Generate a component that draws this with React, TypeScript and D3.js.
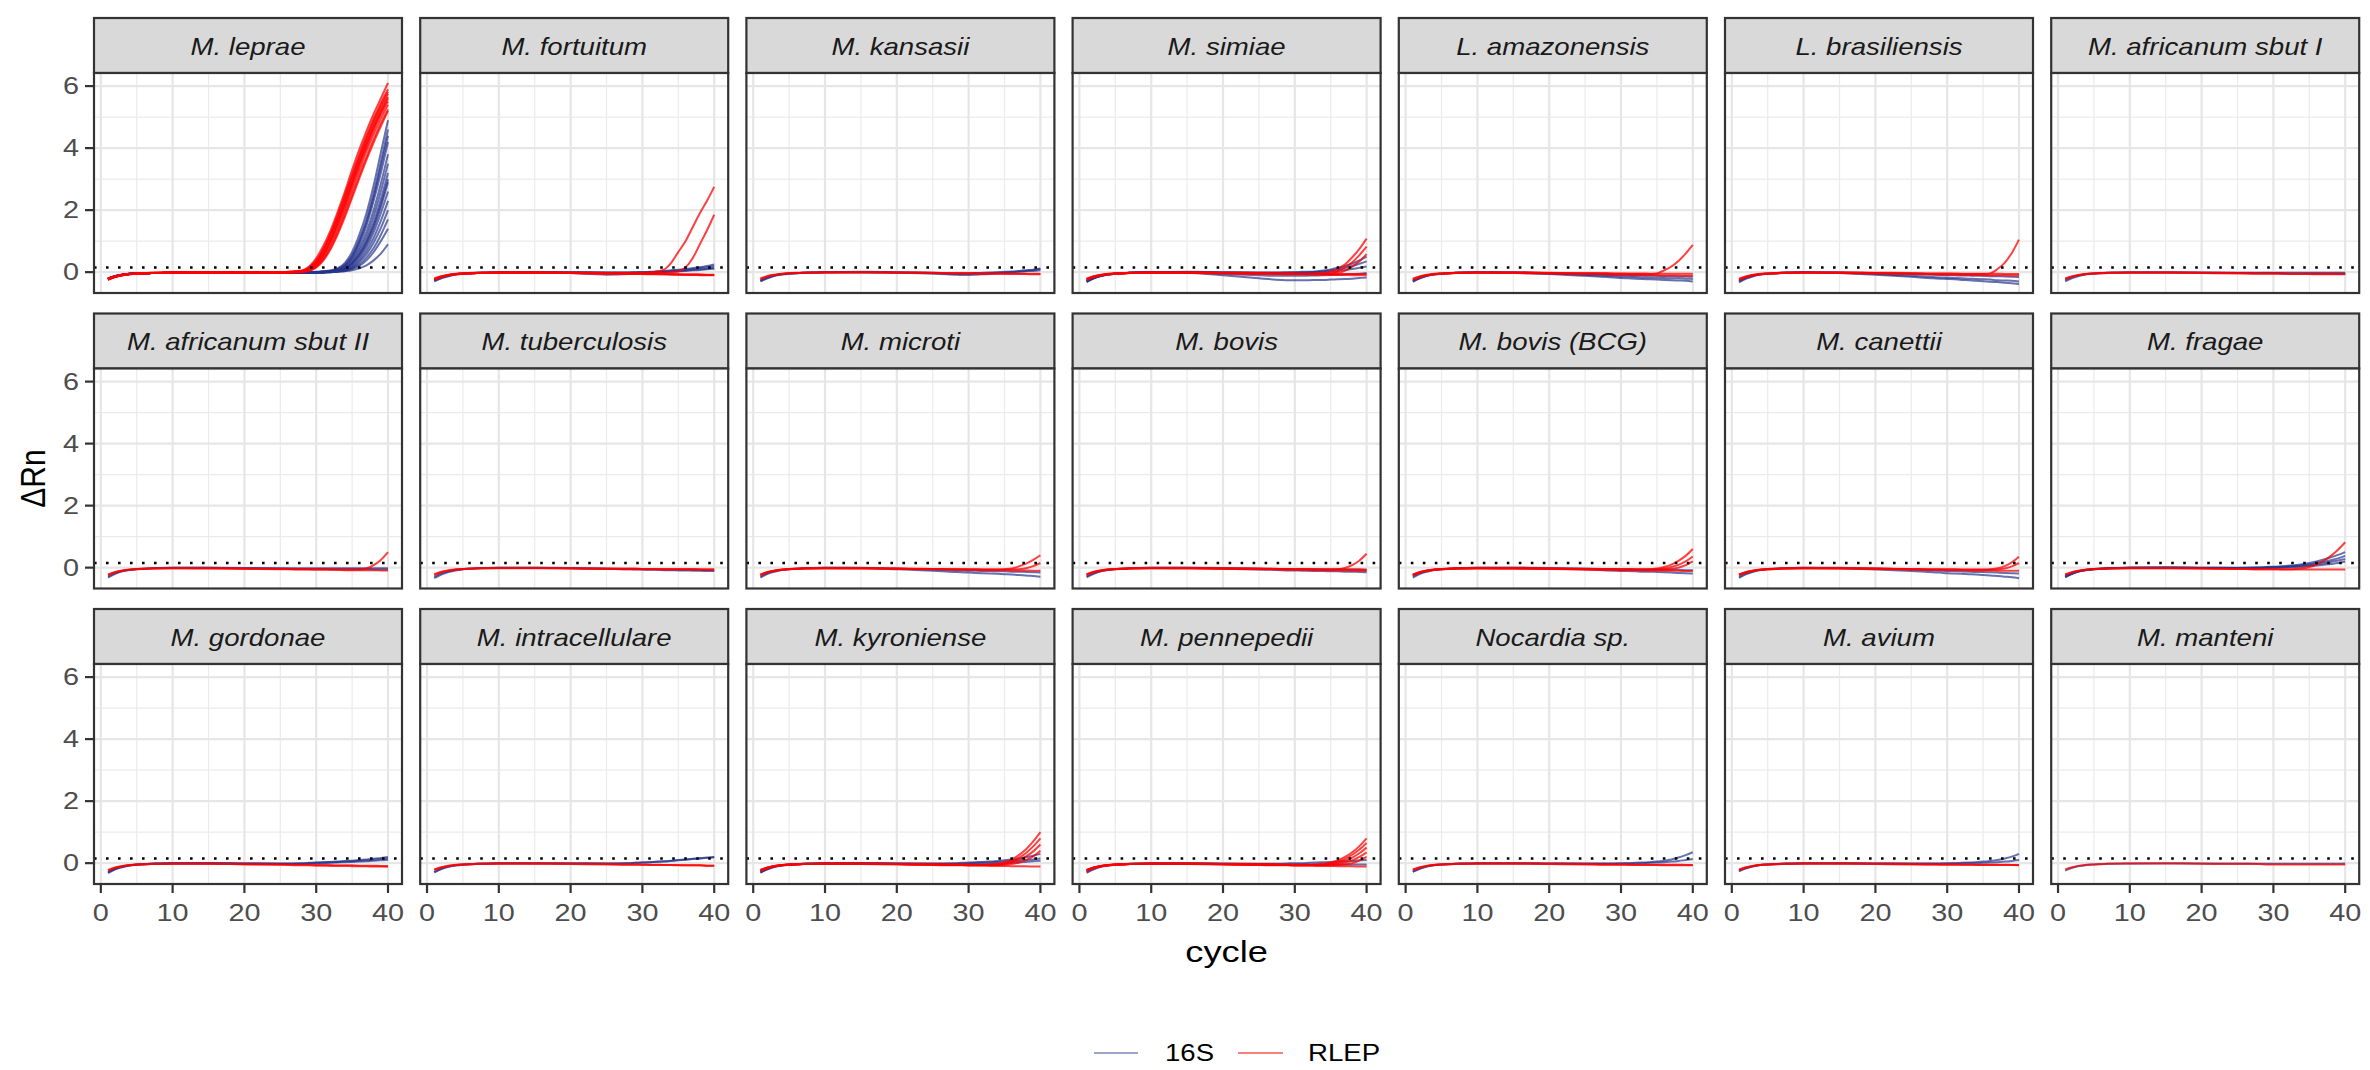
import React from "react";
import * as d3 from "d3";

// ---------- DATA ----------
const CYCLES = [1, 2, 3, 4, 5, 7, 10, 15, 20, 25, 28, 29, 30, 31, 32, 33, 34, 35, 36, 37, 38, 39, 40];
const X_TICKS = [0, 10, 20, 30, 40];
const X_MINOR = [5, 15, 25, 35];
const Y_TICKS = [0, 2, 4, 6];
const Y_MINOR = [1, 3, 5];
const Y_LIMITS = [-0.35, 6.1];
const THRESHOLD = 0.15;
const SERIES_NAMES = ["16S", "RLEP"];

const SPECIES = [
  "M. leprae", "M. fortuitum", "M. kansasii", "M. simiae", "L. amazonensis", "L. brasiliensis", "M. africanum sbut I",
  "M. africanum sbut II", "M. tuberculosis", "M. microti", "M. bovis", "M. bovis (BCG)", "M. canettii", "M. fragae",
  "M. gordonae", "M. intracellulare", "M. kyroniense", "M. pennepedii", "Nocardia sp.", "M. avium", "M. manteni",
];

const lepraeRLEP = [
  [-0.22,-0.14,-0.09,-0.06,-0.04,-0.02,-0.01,-0.01,-0.01,0,0.05,0.18,0.45,0.85,1.35,1.95,2.6,3.3,3.95,4.55,5.1,5.6,6.1],
  [-0.23,-0.15,-0.09,-0.06,-0.04,-0.03,-0.02,-0.01,-0.01,0,0.04,0.15,0.38,0.75,1.25,1.85,2.5,3.15,3.8,4.4,4.95,5.45,5.9],
  [-0.24,-0.15,-0.1,-0.07,-0.05,-0.03,-0.02,-0.02,-0.02,-0.01,0.03,0.12,0.32,0.68,1.15,1.72,2.35,3.0,3.65,4.25,4.8,5.3,5.75],
  [-0.22,-0.14,-0.09,-0.06,-0.05,-0.03,-0.02,-0.02,-0.02,-0.01,0.02,0.1,0.28,0.6,1.05,1.62,2.25,2.9,3.55,4.15,4.7,5.2,5.65],
  [-0.25,-0.16,-0.1,-0.07,-0.05,-0.03,-0.02,-0.02,-0.02,-0.01,0.02,0.08,0.24,0.54,0.98,1.52,2.12,2.78,3.42,4.02,4.58,5.08,5.5],
  [-0.21,-0.13,-0.08,-0.06,-0.04,-0.03,-0.02,-0.01,-0.01,-0.01,0.01,0.06,0.2,0.47,0.88,1.4,2.0,2.65,3.28,3.9,4.45,4.95,5.4],
  [-0.24,-0.15,-0.1,-0.07,-0.05,-0.03,-0.02,-0.02,-0.02,-0.02,0.01,0.05,0.17,0.42,0.8,1.3,1.88,2.5,3.12,3.72,4.28,4.8,5.25],
  [-0.23,-0.14,-0.09,-0.06,-0.04,-0.03,-0.02,-0.02,-0.02,-0.02,0,0.04,0.15,0.38,0.74,1.22,1.78,2.4,3.02,3.62,4.18,4.7,5.2],
  [-0.22,-0.14,-0.09,-0.06,-0.04,-0.02,-0.01,-0.01,-0.01,0,0.03,0.13,0.35,0.72,1.2,1.78,2.42,3.08,3.72,4.32,4.88,5.38,5.82],
  [-0.24,-0.15,-0.1,-0.06,-0.04,-0.03,-0.02,-0.02,-0.02,-0.01,0.02,0.09,0.26,0.57,1.02,1.58,2.2,2.85,3.5,4.1,4.65,5.15,5.6],
];
const leprae16S = [
  [-0.2,-0.13,-0.08,-0.05,-0.04,-0.03,-0.02,-0.02,-0.02,-0.02,-0.01,0,0.01,0.03,0.06,0.13,0.3,0.65,1.2,1.9,2.8,3.85,4.9],
  [-0.21,-0.13,-0.08,-0.05,-0.04,-0.03,-0.02,-0.02,-0.02,-0.02,-0.02,-0.01,0,0.02,0.04,0.1,0.25,0.55,1.05,1.7,2.55,3.55,4.6],
  [-0.21,-0.13,-0.08,-0.05,-0.04,-0.03,-0.02,-0.02,-0.02,-0.02,-0.02,-0.01,0,0.01,0.04,0.09,0.22,0.5,0.98,1.6,2.42,3.4,4.4],
  [-0.22,-0.14,-0.09,-0.06,-0.04,-0.03,-0.02,-0.02,-0.02,-0.02,-0.02,-0.01,0,0.01,0.03,0.08,0.2,0.45,0.9,1.5,2.3,3.2,4.2],
  [-0.2,-0.12,-0.08,-0.05,-0.04,-0.03,-0.02,-0.02,-0.02,-0.02,-0.02,-0.01,0,0.01,0.03,0.07,0.18,0.4,0.78,1.3,2.0,2.85,3.8],
  [-0.23,-0.14,-0.09,-0.06,-0.04,-0.03,-0.02,-0.02,-0.02,-0.02,-0.02,-0.02,-0.01,0,0.02,0.06,0.15,0.34,0.68,1.15,1.8,2.6,3.5],
  [-0.21,-0.13,-0.08,-0.05,-0.04,-0.03,-0.02,-0.02,-0.02,-0.02,-0.02,-0.02,-0.01,0,0.02,0.05,0.13,0.3,0.6,1.02,1.6,2.35,3.2],
  [-0.22,-0.14,-0.09,-0.06,-0.04,-0.03,-0.02,-0.02,-0.02,-0.02,-0.02,-0.02,-0.01,0,0.02,0.05,0.12,0.28,0.56,0.96,1.5,2.2,3.0],
  [-0.22,-0.14,-0.09,-0.06,-0.04,-0.03,-0.02,-0.02,-0.02,-0.02,-0.02,-0.02,-0.01,0,0.02,0.05,0.12,0.27,0.52,0.9,1.42,2.1,2.9],
  [-0.2,-0.13,-0.08,-0.05,-0.04,-0.03,-0.02,-0.02,-0.02,-0.02,-0.02,-0.02,-0.01,0,0.01,0.04,0.1,0.22,0.45,0.8,1.28,1.9,2.6],
  [-0.22,-0.14,-0.09,-0.06,-0.04,-0.03,-0.02,-0.02,-0.02,-0.02,-0.02,-0.02,-0.01,-0.01,0.01,0.03,0.08,0.18,0.38,0.68,1.1,1.65,2.3],
  [-0.21,-0.13,-0.08,-0.05,-0.04,-0.03,-0.02,-0.02,-0.02,-0.02,-0.02,-0.02,-0.01,-0.01,0.01,0.03,0.07,0.15,0.32,0.58,0.95,1.42,2.0],
  [-0.23,-0.14,-0.09,-0.06,-0.04,-0.03,-0.02,-0.02,-0.02,-0.02,-0.02,-0.02,-0.02,-0.01,0,0.02,0.05,0.12,0.25,0.47,0.78,1.2,1.7],
  [-0.2,-0.13,-0.08,-0.05,-0.04,-0.03,-0.02,-0.02,-0.02,-0.02,-0.02,-0.02,-0.02,-0.01,0,0.02,0.04,0.1,0.2,0.38,0.65,1.0,1.4],
  [-0.22,-0.14,-0.09,-0.06,-0.04,-0.03,-0.02,-0.02,-0.02,-0.02,-0.02,-0.02,-0.02,-0.01,0,0.01,0.03,0.06,0.12,0.22,0.38,0.6,0.9],
];

const fortuitumRLEP = [
  [-0.25,-0.16,-0.1,-0.07,-0.05,-0.03,-0.02,-0.02,-0.03,-0.04,-0.05,-0.06,-0.06,-0.07,-0.07,-0.07,-0.08,-0.08,-0.09,-0.09,-0.1,-0.1,-0.1],
  [-0.2,-0.13,-0.08,-0.05,-0.04,-0.02,-0.01,-0.01,-0.02,-0.03,-0.04,-0.04,-0.05,-0.05,-0.05,-0.06,-0.06,-0.06,-0.07,-0.07,-0.07,-0.08,-0.08],
  [-0.22,-0.14,-0.09,-0.06,-0.04,-0.03,-0.02,-0.02,-0.02,-0.03,-0.03,-0.03,-0.02,-0.01,0.02,0.08,0.3,0.65,1.0,1.45,1.9,2.3,2.75],
  [-0.23,-0.15,-0.09,-0.06,-0.05,-0.03,-0.02,-0.02,-0.03,-0.04,-0.04,-0.04,-0.04,-0.04,-0.03,-0.02,0,0.02,0.15,0.45,0.9,1.35,1.85],
  [-0.24,-0.15,-0.1,-0.07,-0.05,-0.03,-0.02,-0.02,-0.03,-0.04,-0.05,-0.05,-0.06,-0.06,-0.06,-0.07,-0.07,-0.08,-0.08,-0.08,-0.09,-0.09,-0.09],
];
const fortuitum16S = [
  [-0.3,-0.2,-0.13,-0.08,-0.05,-0.03,-0.01,0,0,-0.01,-0.01,0,0,0.01,0.02,0.04,0.06,0.08,0.1,0.13,0.16,0.2,0.25],
  [-0.28,-0.18,-0.12,-0.07,-0.05,-0.03,-0.01,0,-0.01,-0.02,-0.02,-0.01,0,0,0.01,0.02,0.04,0.06,0.08,0.1,0.13,0.16,0.2],
  [-0.26,-0.17,-0.11,-0.07,-0.04,-0.02,-0.01,-0.01,-0.03,-0.08,-0.06,-0.04,-0.03,-0.02,-0.01,0,0.02,0.03,0.05,0.07,0.09,0.11,0.14],
  [-0.25,-0.16,-0.1,-0.06,-0.04,-0.02,0,0,-0.01,-0.02,-0.02,-0.02,-0.01,-0.01,0,0.01,0.02,0.03,0.04,0.06,0.07,0.09,0.11],
];

const kansasiiRLEP = [
  [-0.22,-0.14,-0.09,-0.06,-0.04,-0.02,-0.01,-0.01,-0.02,-0.03,-0.04,-0.04,-0.04,-0.05,-0.05,-0.05,-0.05,-0.06,-0.06,-0.06,-0.06,-0.07,-0.07],
  [-0.2,-0.12,-0.08,-0.05,-0.03,-0.02,-0.01,0,-0.01,-0.02,-0.03,-0.03,-0.03,-0.03,-0.04,-0.04,-0.04,-0.04,-0.04,-0.05,-0.05,-0.05,-0.05],
];
const kansasii16S = [
  [-0.3,-0.2,-0.12,-0.08,-0.05,-0.02,0,0,-0.02,-0.05,-0.08,-0.09,-0.09,-0.08,-0.07,-0.06,-0.04,-0.02,0,0.02,0.04,0.07,0.1],
  [-0.28,-0.18,-0.11,-0.07,-0.04,-0.02,0,0.01,0,-0.02,-0.04,-0.04,-0.04,-0.03,-0.02,-0.01,0,0.01,0.02,0.04,0.06,0.08,0.12],
  [-0.27,-0.17,-0.1,-0.06,-0.04,-0.02,0,0,-0.01,-0.03,-0.05,-0.05,-0.05,-0.04,-0.04,-0.03,-0.02,-0.01,0,0.01,0.03,0.04,0.06],
];

const simiaeRLEP = [
  [-0.22,-0.14,-0.09,-0.06,-0.04,-0.03,-0.02,-0.02,-0.03,-0.04,-0.05,-0.05,-0.05,-0.05,-0.05,-0.04,-0.03,0.02,0.1,0.25,0.48,0.75,1.08],
  [-0.24,-0.15,-0.1,-0.07,-0.05,-0.03,-0.02,-0.02,-0.03,-0.04,-0.05,-0.05,-0.06,-0.06,-0.06,-0.06,-0.05,-0.04,0.03,0.15,0.32,0.55,0.82],
  [-0.23,-0.14,-0.09,-0.06,-0.05,-0.03,-0.02,-0.02,-0.03,-0.04,-0.05,-0.05,-0.05,-0.06,-0.06,-0.06,-0.06,-0.05,-0.03,0.05,0.18,0.35,0.58],
  [-0.25,-0.16,-0.1,-0.07,-0.05,-0.03,-0.02,-0.03,-0.04,-0.05,-0.06,-0.07,-0.07,-0.07,-0.08,-0.08,-0.08,-0.09,-0.09,-0.09,-0.1,-0.1,-0.1],
  [-0.21,-0.13,-0.08,-0.05,-0.04,-0.02,-0.01,-0.01,-0.02,-0.03,-0.04,-0.04,-0.04,-0.05,-0.05,-0.05,-0.05,-0.05,-0.06,-0.06,-0.06,-0.06,-0.06],
];
const simiae16S = [
  [-0.32,-0.2,-0.13,-0.08,-0.05,-0.02,0,0.01,0,-0.01,-0.01,0,0,0.01,0.01,0.02,0.05,0.09,0.14,0.2,0.28,0.38,0.5],
  [-0.3,-0.19,-0.12,-0.08,-0.05,-0.02,0,0,-0.01,-0.02,-0.02,-0.02,-0.01,-0.01,0,0.01,0.03,0.06,0.1,0.14,0.2,0.27,0.35],
  [-0.29,-0.18,-0.11,-0.07,-0.04,-0.02,0,0,-0.02,-0.03,-0.04,-0.04,-0.03,-0.03,-0.02,-0.01,0,0.02,0.04,0.07,0.1,0.14,0.18],
  [-0.31,-0.2,-0.12,-0.08,-0.05,-0.02,0,-0.02,-0.1,-0.2,-0.25,-0.26,-0.26,-0.26,-0.26,-0.25,-0.25,-0.24,-0.23,-0.22,-0.21,-0.19,-0.17],
  [-0.3,-0.19,-0.12,-0.07,-0.04,-0.02,0,-0.01,-0.05,-0.1,-0.12,-0.12,-0.12,-0.12,-0.11,-0.11,-0.1,-0.09,-0.08,-0.07,-0.06,-0.05,-0.03],
];

const amazonensisRLEP = [
  [-0.23,-0.15,-0.09,-0.06,-0.05,-0.03,-0.02,-0.02,-0.03,-0.04,-0.05,-0.05,-0.05,-0.06,-0.06,-0.06,-0.06,-0.04,0.06,0.18,0.36,0.6,0.88],
  [-0.25,-0.16,-0.1,-0.07,-0.05,-0.03,-0.02,-0.03,-0.04,-0.06,-0.07,-0.08,-0.08,-0.09,-0.09,-0.1,-0.1,-0.1,-0.11,-0.11,-0.11,-0.12,-0.12],
  [-0.21,-0.13,-0.08,-0.05,-0.04,-0.02,-0.01,-0.01,-0.02,-0.03,-0.03,-0.04,-0.04,-0.04,-0.04,-0.04,-0.05,-0.05,-0.05,-0.05,-0.05,-0.05,-0.05],
];
const amazonensis16S = [
  [-0.31,-0.2,-0.12,-0.08,-0.05,-0.02,0,-0.02,-0.06,-0.12,-0.16,-0.17,-0.19,-0.2,-0.21,-0.22,-0.23,-0.24,-0.25,-0.26,-0.27,-0.28,-0.3],
  [-0.3,-0.19,-0.12,-0.07,-0.05,-0.02,0,-0.01,-0.05,-0.09,-0.12,-0.13,-0.14,-0.15,-0.16,-0.17,-0.18,-0.18,-0.19,-0.2,-0.2,-0.21,-0.22],
  [-0.28,-0.18,-0.11,-0.07,-0.04,-0.02,0,0,-0.03,-0.06,-0.08,-0.09,-0.1,-0.1,-0.11,-0.11,-0.12,-0.12,-0.13,-0.13,-0.14,-0.14,-0.15],
];

const brasiliensisRLEP = [
  [-0.23,-0.15,-0.09,-0.06,-0.05,-0.03,-0.02,-0.02,-0.03,-0.04,-0.05,-0.05,-0.05,-0.06,-0.06,-0.06,-0.06,-0.06,-0.04,0.1,0.3,0.62,1.05],
  [-0.25,-0.16,-0.1,-0.07,-0.05,-0.03,-0.02,-0.03,-0.04,-0.06,-0.07,-0.08,-0.08,-0.08,-0.09,-0.09,-0.09,-0.1,-0.1,-0.1,-0.1,-0.11,-0.11],
  [-0.21,-0.13,-0.08,-0.05,-0.04,-0.02,-0.01,-0.01,-0.02,-0.03,-0.04,-0.04,-0.04,-0.04,-0.05,-0.05,-0.05,-0.05,-0.05,-0.05,-0.06,-0.06,-0.06],
];
const brasiliensis16S = [
  [-0.33,-0.21,-0.13,-0.08,-0.05,-0.02,0,-0.03,-0.08,-0.15,-0.2,-0.21,-0.22,-0.23,-0.25,-0.26,-0.28,-0.29,-0.31,-0.32,-0.34,-0.36,-0.38],
  [-0.3,-0.19,-0.12,-0.07,-0.05,-0.02,0,-0.02,-0.06,-0.12,-0.16,-0.17,-0.18,-0.19,-0.2,-0.21,-0.22,-0.23,-0.24,-0.26,-0.27,-0.28,-0.3],
  [-0.28,-0.18,-0.11,-0.07,-0.04,-0.02,0,0,-0.03,-0.06,-0.08,-0.09,-0.1,-0.1,-0.11,-0.11,-0.12,-0.12,-0.13,-0.13,-0.14,-0.15,-0.16],
];

const africanumIRLEP = [
  [-0.2,-0.13,-0.08,-0.05,-0.04,-0.02,-0.01,-0.01,-0.02,-0.03,-0.04,-0.04,-0.04,-0.04,-0.05,-0.05,-0.05,-0.05,-0.05,-0.05,-0.05,-0.06,-0.06],
  [-0.22,-0.14,-0.09,-0.06,-0.04,-0.03,-0.02,-0.02,-0.03,-0.04,-0.05,-0.05,-0.05,-0.06,-0.06,-0.06,-0.06,-0.06,-0.07,-0.07,-0.07,-0.07,-0.07],
];
const africanumI16S = [
  [-0.3,-0.19,-0.12,-0.07,-0.04,-0.02,-0.01,-0.01,-0.02,-0.03,-0.03,-0.03,-0.03,-0.03,-0.04,-0.04,-0.04,-0.04,-0.04,-0.04,-0.04,-0.04,-0.04],
  [-0.26,-0.16,-0.1,-0.06,-0.04,-0.02,0,0,-0.01,-0.02,-0.02,-0.02,-0.02,-0.02,-0.02,-0.02,-0.02,-0.02,-0.02,-0.02,-0.02,-0.02,-0.02],
];

const africanumIIRLEP = [
  [-0.22,-0.14,-0.09,-0.06,-0.04,-0.03,-0.02,-0.02,-0.03,-0.04,-0.05,-0.05,-0.05,-0.05,-0.06,-0.06,-0.06,-0.06,-0.06,-0.03,0.08,0.25,0.5],
  [-0.24,-0.15,-0.1,-0.07,-0.05,-0.03,-0.02,-0.03,-0.04,-0.05,-0.06,-0.06,-0.07,-0.07,-0.07,-0.07,-0.08,-0.08,-0.08,-0.08,-0.08,-0.09,-0.09],
];
const africanumII16S = [
  [-0.32,-0.2,-0.12,-0.08,-0.05,-0.02,0,0,-0.02,-0.03,-0.04,-0.04,-0.04,-0.04,-0.05,-0.05,-0.05,-0.05,-0.05,-0.05,-0.06,-0.06,-0.06],
  [-0.28,-0.18,-0.11,-0.07,-0.04,-0.02,0,0,-0.01,-0.02,-0.02,-0.02,-0.02,-0.02,-0.02,-0.02,-0.02,-0.02,-0.02,-0.02,-0.02,-0.02,-0.02],
];

const tuberculosisRLEP = [
  [-0.24,-0.15,-0.1,-0.07,-0.05,-0.03,-0.02,-0.02,-0.03,-0.04,-0.05,-0.05,-0.05,-0.05,-0.06,-0.06,-0.06,-0.06,-0.06,-0.06,-0.07,-0.07,-0.07],
  [-0.21,-0.13,-0.08,-0.05,-0.04,-0.02,-0.01,-0.01,-0.02,-0.03,-0.03,-0.03,-0.04,-0.04,-0.04,-0.04,-0.04,-0.04,-0.04,-0.04,-0.05,-0.05,-0.05],
];
const tuberculosis16S = [
  [-0.34,-0.22,-0.14,-0.09,-0.05,-0.02,0,0,-0.02,-0.04,-0.05,-0.06,-0.06,-0.07,-0.07,-0.08,-0.08,-0.09,-0.09,-0.1,-0.1,-0.11,-0.11],
  [-0.3,-0.19,-0.12,-0.07,-0.04,-0.02,0,0,-0.01,-0.03,-0.04,-0.04,-0.05,-0.05,-0.05,-0.06,-0.06,-0.06,-0.07,-0.07,-0.07,-0.08,-0.08],
];

const microtiRLEP = [
  [-0.22,-0.14,-0.09,-0.06,-0.04,-0.03,-0.02,-0.02,-0.03,-0.04,-0.05,-0.05,-0.05,-0.05,-0.06,-0.06,-0.06,-0.05,-0.03,0.04,0.13,0.25,0.4],
  [-0.24,-0.15,-0.1,-0.07,-0.05,-0.03,-0.02,-0.02,-0.03,-0.04,-0.05,-0.05,-0.06,-0.06,-0.06,-0.06,-0.06,-0.06,-0.06,-0.05,-0.02,0.05,0.15],
  [-0.23,-0.15,-0.1,-0.07,-0.05,-0.03,-0.02,-0.03,-0.04,-0.05,-0.06,-0.07,-0.07,-0.07,-0.08,-0.08,-0.08,-0.08,-0.09,-0.09,-0.09,-0.1,-0.1],
];
const microti16S = [
  [-0.32,-0.2,-0.13,-0.08,-0.05,-0.02,0,-0.01,-0.05,-0.1,-0.14,-0.15,-0.16,-0.17,-0.18,-0.19,-0.2,-0.21,-0.22,-0.24,-0.25,-0.27,-0.29],
  [-0.29,-0.18,-0.11,-0.07,-0.04,-0.02,0,0,-0.03,-0.06,-0.08,-0.09,-0.1,-0.1,-0.11,-0.11,-0.12,-0.12,-0.13,-0.13,-0.14,-0.15,-0.16],
];

const bovisRLEP = [
  [-0.22,-0.14,-0.09,-0.06,-0.04,-0.03,-0.02,-0.02,-0.03,-0.04,-0.05,-0.05,-0.05,-0.05,-0.06,-0.06,-0.06,-0.06,-0.05,-0.01,0.08,0.23,0.45],
  [-0.24,-0.15,-0.1,-0.07,-0.05,-0.03,-0.02,-0.03,-0.04,-0.05,-0.06,-0.07,-0.07,-0.07,-0.08,-0.08,-0.08,-0.09,-0.09,-0.09,-0.1,-0.1,-0.1],
  [-0.21,-0.13,-0.08,-0.05,-0.04,-0.02,-0.01,-0.01,-0.02,-0.03,-0.04,-0.04,-0.04,-0.04,-0.04,-0.05,-0.05,-0.05,-0.05,-0.05,-0.05,-0.05,-0.06],
];
const bovis16S = [
  [-0.31,-0.2,-0.12,-0.08,-0.05,-0.02,0,0,-0.03,-0.06,-0.08,-0.09,-0.09,-0.1,-0.1,-0.11,-0.11,-0.12,-0.12,-0.13,-0.13,-0.14,-0.15],
  [-0.28,-0.18,-0.11,-0.07,-0.04,-0.02,0,0,-0.01,-0.03,-0.04,-0.04,-0.05,-0.05,-0.05,-0.05,-0.06,-0.06,-0.06,-0.07,-0.07,-0.07,-0.08],
];

const bcgRLEP = [
  [-0.22,-0.14,-0.09,-0.06,-0.04,-0.03,-0.02,-0.02,-0.03,-0.04,-0.05,-0.05,-0.05,-0.05,-0.06,-0.06,-0.05,-0.03,0.02,0.1,0.22,0.38,0.6],
  [-0.23,-0.15,-0.09,-0.06,-0.05,-0.03,-0.02,-0.02,-0.03,-0.04,-0.05,-0.05,-0.06,-0.06,-0.06,-0.06,-0.06,-0.05,-0.03,0.02,0.09,0.2,0.36],
  [-0.24,-0.15,-0.1,-0.07,-0.05,-0.03,-0.02,-0.03,-0.04,-0.05,-0.06,-0.06,-0.07,-0.07,-0.07,-0.07,-0.07,-0.07,-0.06,-0.04,0.0,0.08,0.2],
  [-0.25,-0.16,-0.1,-0.07,-0.05,-0.03,-0.02,-0.03,-0.04,-0.06,-0.07,-0.07,-0.08,-0.08,-0.08,-0.09,-0.09,-0.09,-0.1,-0.1,-0.1,-0.11,-0.11],
];
const bcg16S = [
  [-0.32,-0.2,-0.13,-0.08,-0.05,-0.02,0,0,-0.03,-0.06,-0.09,-0.1,-0.11,-0.11,-0.12,-0.13,-0.13,-0.14,-0.15,-0.16,-0.17,-0.18,-0.19],
  [-0.28,-0.18,-0.11,-0.07,-0.04,-0.02,0,0,-0.01,-0.03,-0.04,-0.05,-0.05,-0.05,-0.06,-0.06,-0.06,-0.06,-0.07,-0.07,-0.07,-0.08,-0.08],
];

const canettiiRLEP = [
  [-0.22,-0.14,-0.09,-0.06,-0.04,-0.03,-0.02,-0.02,-0.03,-0.04,-0.05,-0.05,-0.05,-0.05,-0.06,-0.06,-0.06,-0.06,-0.05,-0.02,0.05,0.17,0.35],
  [-0.24,-0.15,-0.1,-0.07,-0.05,-0.03,-0.02,-0.02,-0.03,-0.05,-0.06,-0.06,-0.06,-0.06,-0.07,-0.07,-0.07,-0.07,-0.07,-0.06,-0.03,0.04,0.15],
  [-0.23,-0.15,-0.1,-0.07,-0.05,-0.03,-0.02,-0.03,-0.04,-0.06,-0.07,-0.07,-0.08,-0.08,-0.08,-0.09,-0.09,-0.09,-0.09,-0.1,-0.1,-0.1,-0.1],
];
const canettii16S = [
  [-0.33,-0.21,-0.13,-0.08,-0.05,-0.02,0,-0.02,-0.06,-0.11,-0.15,-0.16,-0.18,-0.19,-0.2,-0.21,-0.22,-0.24,-0.25,-0.27,-0.29,-0.31,-0.34],
  [-0.3,-0.19,-0.12,-0.07,-0.04,-0.02,0,0,-0.03,-0.06,-0.09,-0.1,-0.11,-0.11,-0.12,-0.13,-0.14,-0.14,-0.15,-0.16,-0.17,-0.18,-0.19],
];

const fragaeRLEP = [
  [-0.22,-0.14,-0.09,-0.06,-0.04,-0.03,-0.02,-0.02,-0.03,-0.04,-0.05,-0.05,-0.05,-0.05,-0.05,-0.04,-0.02,0.02,0.1,0.22,0.38,0.58,0.82],
  [-0.23,-0.15,-0.1,-0.07,-0.05,-0.03,-0.02,-0.02,-0.03,-0.04,-0.05,-0.05,-0.05,-0.06,-0.06,-0.06,-0.06,-0.06,-0.06,-0.06,-0.06,-0.06,-0.06],
];
const fragae16S = [
  [-0.3,-0.19,-0.12,-0.08,-0.05,-0.02,0,0.01,0,0,0.01,0.02,0.03,0.04,0.06,0.08,0.11,0.15,0.2,0.26,0.33,0.41,0.5],
  [-0.29,-0.18,-0.11,-0.07,-0.04,-0.02,0,0,0,-0.01,0,0.01,0.02,0.03,0.04,0.06,0.08,0.11,0.15,0.19,0.24,0.3,0.38],
  [-0.31,-0.2,-0.12,-0.08,-0.05,-0.02,0,0,-0.01,-0.01,-0.01,0,0.01,0.02,0.03,0.04,0.06,0.08,0.11,0.14,0.18,0.23,0.28],
  [-0.28,-0.18,-0.11,-0.07,-0.04,-0.02,0,0,-0.01,-0.02,-0.02,-0.01,-0.01,0,0.01,0.02,0.03,0.05,0.07,0.09,0.12,0.15,0.2],
];

const gordonaeRLEP = [
  [-0.22,-0.14,-0.09,-0.06,-0.04,-0.03,-0.02,-0.02,-0.03,-0.04,-0.05,-0.05,-0.06,-0.06,-0.06,-0.07,-0.07,-0.07,-0.08,-0.08,-0.08,-0.09,-0.09],
  [-0.24,-0.15,-0.1,-0.07,-0.05,-0.03,-0.02,-0.02,-0.04,-0.05,-0.07,-0.07,-0.08,-0.08,-0.09,-0.09,-0.09,-0.1,-0.1,-0.1,-0.11,-0.11,-0.12],
];
const gordonae16S = [
  [-0.32,-0.2,-0.13,-0.08,-0.05,-0.02,0,0,-0.01,-0.01,0,0.01,0.02,0.03,0.04,0.05,0.07,0.08,0.1,0.12,0.14,0.17,0.2],
  [-0.3,-0.19,-0.12,-0.07,-0.04,-0.02,0,0,-0.01,-0.02,-0.01,0,0.01,0.02,0.03,0.04,0.05,0.06,0.08,0.09,0.11,0.13,0.15],
  [-0.28,-0.18,-0.11,-0.07,-0.04,-0.02,0,0,-0.02,-0.03,-0.03,-0.02,-0.01,0,0.01,0.02,0.03,0.04,0.05,0.06,0.08,0.09,0.11],
];

const intracellulareRLEP = [
  [-0.2,-0.13,-0.08,-0.05,-0.04,-0.02,-0.01,-0.01,-0.02,-0.03,-0.04,-0.04,-0.05,-0.05,-0.05,-0.06,-0.06,-0.06,-0.07,-0.07,-0.07,-0.08,-0.08],
  [-0.22,-0.14,-0.09,-0.06,-0.04,-0.03,-0.02,-0.02,-0.03,-0.04,-0.05,-0.05,-0.05,-0.06,-0.06,-0.06,-0.06,-0.07,-0.07,-0.07,-0.07,-0.08,-0.08],
];
const intracellulare16S = [
  [-0.3,-0.19,-0.12,-0.08,-0.05,-0.02,0,0,-0.01,-0.01,0,0.01,0.02,0.03,0.05,0.06,0.08,0.1,0.12,0.14,0.16,0.18,0.2],
  [-0.29,-0.18,-0.11,-0.07,-0.04,-0.02,0,0,0,-0.01,0,0.01,0.02,0.03,0.04,0.05,0.07,0.09,0.11,0.13,0.15,0.17,0.19],
];

const kyronienseRLEP = [
  [-0.22,-0.14,-0.09,-0.06,-0.04,-0.03,-0.02,-0.02,-0.03,-0.04,-0.05,-0.05,-0.05,-0.05,-0.05,-0.04,-0.02,0.03,0.12,0.26,0.45,0.7,1.0],
  [-0.23,-0.15,-0.09,-0.06,-0.05,-0.03,-0.02,-0.02,-0.03,-0.04,-0.05,-0.05,-0.05,-0.06,-0.06,-0.05,-0.04,-0.01,0.06,0.17,0.33,0.54,0.8],
  [-0.24,-0.15,-0.1,-0.07,-0.05,-0.03,-0.02,-0.02,-0.03,-0.05,-0.06,-0.06,-0.06,-0.06,-0.06,-0.06,-0.05,-0.03,0.02,0.1,0.22,0.38,0.6],
  [-0.22,-0.14,-0.09,-0.06,-0.04,-0.03,-0.02,-0.02,-0.03,-0.04,-0.05,-0.05,-0.06,-0.06,-0.06,-0.06,-0.06,-0.05,-0.03,0.02,0.1,0.22,0.4],
  [-0.25,-0.16,-0.1,-0.07,-0.05,-0.03,-0.02,-0.03,-0.04,-0.06,-0.07,-0.07,-0.08,-0.08,-0.08,-0.09,-0.09,-0.09,-0.1,-0.1,-0.1,-0.11,-0.11],
];
const kyroniense16S = [
  [-0.31,-0.2,-0.12,-0.08,-0.05,-0.02,0,0,-0.01,-0.01,0,0.01,0.02,0.03,0.04,0.05,0.07,0.09,0.12,0.15,0.19,0.24,0.3],
  [-0.29,-0.18,-0.11,-0.07,-0.04,-0.02,0,0,-0.01,-0.02,-0.02,-0.01,0,0.01,0.02,0.03,0.04,0.05,0.07,0.08,0.1,0.12,0.15],
  [-0.3,-0.19,-0.12,-0.07,-0.05,-0.02,0,0,-0.02,-0.03,-0.04,-0.04,-0.03,-0.03,-0.02,-0.02,-0.01,0,0.01,0.02,0.04,0.06,0.08],
];

const pennepediiRLEP = [
  [-0.22,-0.14,-0.09,-0.06,-0.04,-0.03,-0.02,-0.02,-0.03,-0.04,-0.05,-0.05,-0.05,-0.05,-0.05,-0.04,-0.02,0.02,0.09,0.2,0.35,0.55,0.8],
  [-0.23,-0.15,-0.09,-0.06,-0.05,-0.03,-0.02,-0.02,-0.03,-0.04,-0.05,-0.05,-0.06,-0.06,-0.06,-0.05,-0.04,-0.01,0.05,0.14,0.27,0.44,0.65],
  [-0.24,-0.15,-0.1,-0.07,-0.05,-0.03,-0.02,-0.02,-0.03,-0.05,-0.06,-0.06,-0.06,-0.06,-0.06,-0.06,-0.05,-0.03,0.01,0.08,0.18,0.32,0.5],
  [-0.22,-0.14,-0.09,-0.06,-0.04,-0.03,-0.02,-0.02,-0.03,-0.04,-0.05,-0.06,-0.06,-0.06,-0.06,-0.06,-0.06,-0.05,-0.03,0.02,0.09,0.2,0.35],
  [-0.23,-0.15,-0.1,-0.07,-0.05,-0.03,-0.02,-0.02,-0.04,-0.05,-0.06,-0.06,-0.07,-0.07,-0.07,-0.07,-0.07,-0.07,-0.06,-0.04,0.0,0.08,0.2],
  [-0.25,-0.16,-0.1,-0.07,-0.05,-0.03,-0.02,-0.03,-0.04,-0.06,-0.07,-0.07,-0.08,-0.08,-0.08,-0.09,-0.09,-0.09,-0.1,-0.1,-0.1,-0.11,-0.11],
];
const pennepedii16S = [
  [-0.31,-0.2,-0.12,-0.08,-0.05,-0.02,0,0,-0.01,-0.02,-0.02,-0.01,0,0,0.01,0.02,0.03,0.04,0.05,0.06,0.07,0.09,0.1],
  [-0.29,-0.18,-0.11,-0.07,-0.04,-0.02,0,0,-0.02,-0.03,-0.04,-0.04,-0.04,-0.04,-0.04,-0.04,-0.04,-0.04,-0.04,-0.04,-0.04,-0.04,-0.04],
];

const nocardiaRLEP = [
  [-0.2,-0.13,-0.08,-0.05,-0.04,-0.02,-0.01,-0.01,-0.02,-0.03,-0.04,-0.04,-0.04,-0.04,-0.05,-0.05,-0.05,-0.05,-0.05,-0.05,-0.05,-0.06,-0.06],
  [-0.22,-0.14,-0.09,-0.06,-0.04,-0.03,-0.02,-0.02,-0.03,-0.04,-0.05,-0.05,-0.05,-0.06,-0.06,-0.06,-0.06,-0.06,-0.07,-0.07,-0.07,-0.07,-0.07],
];
const nocardia16S = [
  [-0.28,-0.18,-0.11,-0.07,-0.04,-0.02,0,0,-0.01,-0.01,-0.01,-0.01,0,0,0.01,0.02,0.03,0.05,0.08,0.12,0.18,0.26,0.35],
  [-0.27,-0.17,-0.1,-0.06,-0.04,-0.02,0,0,-0.01,-0.02,-0.02,-0.02,-0.02,-0.01,-0.01,0,0.01,0.02,0.03,0.05,0.07,0.1,0.13],
];

const aviumRLEP = [
  [-0.2,-0.13,-0.08,-0.05,-0.04,-0.02,-0.01,-0.01,-0.02,-0.03,-0.04,-0.04,-0.04,-0.04,-0.05,-0.05,-0.05,-0.05,-0.05,-0.05,-0.05,-0.06,-0.06],
  [-0.22,-0.14,-0.09,-0.06,-0.04,-0.03,-0.02,-0.02,-0.03,-0.04,-0.04,-0.05,-0.05,-0.05,-0.05,-0.05,-0.06,-0.06,-0.06,-0.06,-0.06,-0.06,-0.07],
];
const avium16S = [
  [-0.26,-0.17,-0.1,-0.06,-0.04,-0.02,0,0,-0.01,-0.01,-0.01,-0.01,0,0,0.01,0.02,0.03,0.05,0.07,0.1,0.15,0.21,0.3],
  [-0.25,-0.16,-0.1,-0.06,-0.04,-0.02,0,0,-0.01,-0.02,-0.02,-0.02,-0.02,-0.01,-0.01,0,0,0.01,0.02,0.03,0.05,0.07,0.1],
];

const manteniRLEP = [
  [-0.2,-0.13,-0.08,-0.05,-0.04,-0.02,-0.01,-0.01,-0.02,-0.03,-0.03,-0.04,-0.04,-0.04,-0.04,-0.04,-0.04,-0.04,-0.04,-0.04,-0.04,-0.04,-0.04],
];
const manteni16S = [
  [-0.24,-0.15,-0.09,-0.06,-0.04,-0.02,-0.01,0,-0.01,-0.01,-0.02,-0.02,-0.02,-0.02,-0.02,-0.02,-0.02,-0.02,-0.02,-0.02,-0.02,-0.02,-0.01],
];

const CURVES_16S = [
  leprae16S, fortuitum16S, kansasii16S, simiae16S, amazonensis16S, brasiliensis16S, africanumI16S,
  africanumII16S, tuberculosis16S, microti16S, bovis16S, bcg16S, canettii16S, fragae16S,
  gordonae16S, intracellulare16S, kyroniense16S, pennepedii16S, nocardia16S, avium16S, manteni16S,
];
const CURVES_RLEP = [
  lepraeRLEP, fortuitumRLEP, kansasiiRLEP, simiaeRLEP, amazonensisRLEP, brasiliensisRLEP, africanumIRLEP,
  africanumIIRLEP, tuberculosisRLEP, microtiRLEP, bovisRLEP, bcgRLEP, canettiiRLEP, fragaeRLEP,
  gordonaeRLEP, intracellulareRLEP, kyronienseRLEP, pennepediiRLEP, nocardiaRLEP, aviumRLEP, manteniRLEP,
];

// ---------- LAYOUT / STYLE ----------
const W = 2370;
const H = 1070;
const NCOL = 7;
const PANEL_X0 = 94;
const STEP_X = 326.2;
const PANEL_W = 308;
const ROW_Y0 = 18;
const STEP_Y = 295.5;
const STRIP_H = 55;
const PANEL_H = 220;
const COLORS = { "16S": "#26358c", RLEP: "#ff0000" };
const FONT = "'Liberation Sans', Arial, Helvetica, sans-serif";
const SX = 1.2; // horizontal stretch of lettering in the reference

const xExt = d3.extent(CYCLES) as [number, number];
const xPad = (xExt[1] - xExt[0]) * 0.05;
const x = d3.scaleLinear().domain([xExt[0] - xPad, xExt[1] + xPad]).range([0, PANEL_W]);
const yPad = (Y_LIMITS[1] - Y_LIMITS[0]) * 0.05;
const y = d3.scaleLinear().domain([Y_LIMITS[0] - yPad, Y_LIMITS[1] + yPad]).range([PANEL_H, 0]);

const line = d3
  .line<number>()
  .x((_, i) => x(CYCLES[i]))
  .y((v) => y(v))
  .curve(d3.curveMonotoneX);

function T({
  x: tx, y: ty, anchor = "middle", size = 24, fill = "#000", italic = false, sx = SX, children,
}: any) {
  return (
    <text
      transform={`translate(${tx},${ty}) scale(${sx},1)`}
      textAnchor={anchor}
      dominantBaseline="central"
      fontSize={size}
      fill={fill}
      fontStyle={italic ? "italic" : "normal"}
      fontFamily={FONT}
    >
      {children}
    </text>
  );
}

function Panel({ idx }: { idx: number }) {
  const col = idx % NCOL;
  const row = Math.floor(idx / NCOL);
  const px = PANEL_X0 + col * STEP_X;
  const sy = ROW_Y0 + row * STEP_Y;
  const py = sy + STRIP_H;
  const isLeft = col === 0;
  const isBottom = row === 2;
  return (
    <g>
      <rect x={px} y={sy} width={PANEL_W} height={STRIP_H} fill="#d9d9d9" stroke="#333333" strokeWidth={2.2} />
      <T x={px + PANEL_W / 2} y={sy + STRIP_H / 2 + 1} size={23} fill="#1a1a1a" italic>
        {SPECIES[idx]}
      </T>
      <g transform={`translate(${px},${py})`}>
        <rect x={0} y={0} width={PANEL_W} height={PANEL_H} fill="#ffffff" />
        {X_MINOR.map((t) => (
          <line key={"xm" + t} x1={x(t)} x2={x(t)} y1={0} y2={PANEL_H} stroke="#ebebeb" strokeWidth={1.2} />
        ))}
        {Y_MINOR.map((t) => (
          <line key={"ym" + t} x1={0} x2={PANEL_W} y1={y(t)} y2={y(t)} stroke="#ebebeb" strokeWidth={1.2} />
        ))}
        {X_TICKS.map((t) => (
          <line key={"xM" + t} x1={x(t)} x2={x(t)} y1={0} y2={PANEL_H} stroke="#e6e6e6" strokeWidth={2.2} />
        ))}
        {Y_TICKS.map((t) => (
          <line key={"yM" + t} x1={0} x2={PANEL_W} y1={y(t)} y2={y(t)} stroke="#e6e6e6" strokeWidth={2.2} />
        ))}
        {CURVES_16S[idx].map((c, i) => (
          <path key={"b" + i} d={line(c) || ""} fill="none" stroke={COLORS["16S"]} strokeOpacity={0.7} strokeWidth={2} />
        ))}
        {CURVES_RLEP[idx].map((c, i) => (
          <path key={"r" + i} d={line(c) || ""} fill="none" stroke={COLORS.RLEP} strokeOpacity={0.75} strokeWidth={2} />
        ))}
        <line
          x1={0}
          x2={PANEL_W}
          y1={y(THRESHOLD)}
          y2={y(THRESHOLD)}
          stroke="#000000"
          strokeWidth={2.6}
          strokeDasharray="2.6 9.4"
        />
        <rect x={0} y={0} width={PANEL_W} height={PANEL_H} fill="none" stroke="#333333" strokeWidth={2.2} />
        {isLeft &&
          Y_TICKS.map((t) => (
            <g key={"yt" + t}>
              <line x1={-9} x2={0} y1={y(t)} y2={y(t)} stroke="#333333" strokeWidth={2.2} />
              <T x={-15} y={y(t)} anchor="end" size={24} fill="#4d4d4d">
                {t}
              </T>
            </g>
          ))}
        {isBottom &&
          X_TICKS.map((t) => (
            <g key={"xt" + t}>
              <line x1={x(t)} x2={x(t)} y1={PANEL_H} y2={PANEL_H + 9} stroke="#333333" strokeWidth={2.2} />
              <T x={x(t)} y={PANEL_H + 29} size={24} fill="#4d4d4d">
                {t}
              </T>
            </g>
          ))}
      </g>
    </g>
  );
}

export default function App() {
  const plotLeft = PANEL_X0;
  const plotRight = PANEL_X0 + (NCOL - 1) * STEP_X + PANEL_W;
  const cx = (plotLeft + plotRight) / 2;
  const plotTop = ROW_Y0 + STRIP_H;
  const plotBottom = ROW_Y0 + 2 * STEP_Y + STRIP_H + PANEL_H;
  const cy = (plotTop + plotBottom) / 2;
  const legendY = 1053;
  return (
    <svg
      width={W}
      height={H}
      viewBox={`0 0 ${W} ${H}`}
      style={{ position: "absolute", left: 0, top: 0, background: "#ffffff" }}
    >
      <rect x={0} y={0} width={W} height={H} fill="#ffffff" />
      {SPECIES.map((_, i) => (
        <Panel key={i} idx={i} />
      ))}
      <T x={cx} y={952} size={29} sx={1.25}>
        cycle
      </T>
      <text
        transform={`translate(33,${cy}) rotate(-90) scale(1,1.15)`}
        textAnchor="middle"
        dominantBaseline="central"
        fontSize={30}
        fill="#000"
        fontFamily={FONT}
      >
        ΔRn
      </text>
      <g>
        <line x1={1094} x2={1138} y1={legendY} y2={legendY} stroke={COLORS["16S"]} strokeOpacity={0.45} strokeWidth={2.2} />
        <T x={1165} y={legendY} anchor="start" size={24} sx={1.15}>
          {SERIES_NAMES[0]}
        </T>
        <line x1={1238} x2={1283} y1={legendY} y2={legendY} stroke={COLORS.RLEP} strokeOpacity={0.5} strokeWidth={2.2} />
        <T x={1308} y={legendY} anchor="start" size={24} sx={1.15}>
          {SERIES_NAMES[1]}
        </T>
      </g>
    </svg>
  );
}
